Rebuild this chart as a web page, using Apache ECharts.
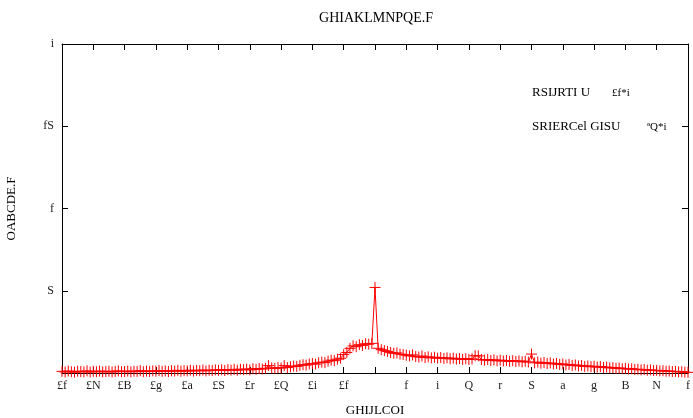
<!DOCTYPE html>
<html>
<head>
<meta charset="utf-8">
<script src="https://cdn.jsdelivr.net/npm/echarts@6/dist/echarts.min.js"></script>
<style>
  html, body { margin: 0; padding: 0; background: #fff; }
  #main { width: 693px; height: 418px; }
</style>
</head>
<body>
<div id="main"></div>
<script>
// sampling grid of the curve (x from -1 to 1)
const xStart = -1
const xStep = 0.01

// measured values, one per grid step
const yValues = [
  0.010, 0.006, 0.012, 0.008, 0.005, 0.011, 0.009, 0.007, 0.013, 0.006,
  0.010, 0.008, 0.012, 0.007, 0.009, 0.011, 0.006, 0.010, 0.013, 0.008,
  0.009, 0.012, 0.007, 0.011, 0.010, 0.014, 0.008, 0.012, 0.009, 0.013,
  0.011, 0.015, 0.010, 0.013, 0.009, 0.014, 0.012, 0.016, 0.011, 0.014,
  0.013, 0.017, 0.012, 0.016, 0.014, 0.018, 0.013, 0.017, 0.015, 0.019,
  0.016, 0.020, 0.015, 0.021, 0.018, 0.022, 0.017, 0.023, 0.020, 0.024,
  0.019, 0.026, 0.022, 0.027, 0.024, 0.029, 0.045, 0.031, 0.028, 0.033,
  0.030, 0.045, 0.033, 0.038, 0.042, 0.040, 0.047, 0.050, 0.048, 0.055,
  0.058, 0.054, 0.062, 0.066, 0.063, 0.072, 0.078, 0.075, 0.084, 0.090,
  0.112, 0.125, 0.150, 0.165, 0.160, 0.172, 0.168, 0.178, 0.175, 0.180,
  0.520,
  0.150, 0.142, 0.136, 0.131, 0.125, 0.120, 0.122, 0.115, 0.112, 0.108,
  0.104, 0.110, 0.100, 0.097, 0.103, 0.094, 0.098, 0.092, 0.096, 0.090,
  0.094, 0.088, 0.092, 0.086, 0.090, 0.085, 0.088, 0.083, 0.087, 0.082,
  0.086, 0.105, 0.104, 0.082, 0.078, 0.082, 0.076, 0.080, 0.074, 0.078,
  0.073, 0.076, 0.071, 0.075, 0.070, 0.073, 0.068, 0.072, 0.067, 0.115,
  0.062, 0.066, 0.060, 0.064, 0.058, 0.061, 0.055, 0.058, 0.052, 0.055,
  0.049, 0.052, 0.046, 0.049, 0.043, 0.046, 0.040, 0.043, 0.038, 0.041,
  0.036, 0.039, 0.033, 0.036, 0.031, 0.033, 0.028, 0.031, 0.026, 0.028,
  0.024, 0.026, 0.021, 0.023, 0.019, 0.021, 0.017, 0.019, 0.015, 0.016,
  0.013, 0.014, 0.011, 0.012, 0.009, 0.010, 0.007, 0.008, 0.005, 0.004
]

// tick labels as printed on the reference
const xTickLabels = ['£f', '£N', '£B', '£g', '£a', '£S', '£r', '£Q', '£i', '£f', '',
  'f', 'i', 'Q', 'r', 'S', 'a', 'g', 'B', 'N', 'f']
const yTickLabels = ['', 'S', 'f', 'fS', 'i']

const titleText = 'GHIAKLMNPQE.F'
const xName = 'GHIJLCOI'
const yName = 'OABCDE.F'
const noteKeys = ['RSIJRTI U', 'SRIERCel GISU']
const noteVals = ['£f*i', 'ªQ*i']

const font = 'Liberation Serif'
const red = '#ff0000'

let seriesData = yValues.map((v, i) => [+(xStart + i * xStep).toFixed(2), v])

let chart = echarts.init(document.getElementById('main'), null, { renderer: 'canvas' })

let axisCommon = {
  axisLine: { show: true, onZero: false, lineStyle: { color: '#000', width: 1 } },
  axisTick: { show: true, inside: true, length: 6, lineStyle: { color: '#000' } },
  splitLine: { show: false }
}

let option = {
  animation: false,
  backgroundColor: '#fff',
  title: {
    text: titleText,
    left: 371,
    top: 6,
    textAlign: 'center',
    textStyle: { fontFamily: font, fontSize: 14, fontWeight: 'normal', color: '#000' }
  },
  grid: { left: 62, right: 5, top: 44, bottom: 45, containLabel: false, outerBoundsMode: 'none' },
  xAxis: [
    Object.assign({}, axisCommon, {
      type: 'value', min: -1, max: 1, interval: 0.1, position: 'bottom',
      name: xName, nameLocation: 'middle', nameGap: 31,
      nameTextStyle: { fontFamily: font, fontSize: 13, color: '#000' },
      axisLabel: {
        margin: 7, fontFamily: font, fontSize: 12, color: '#222',
        formatter: (val, idx) => xTickLabels[idx] || ''
      }
    }),
    Object.assign({}, axisCommon, {
      type: 'value', min: -1, max: 1, interval: 0.1, position: 'top',
      axisLabel: { show: false }
    })
  ],
  yAxis: [
    Object.assign({}, axisCommon, {
      type: 'value', min: 0, max: 2, interval: 0.5, position: 'left',
      name: yName, nameLocation: 'middle', nameGap: 44, nameRotate: 90,
      nameTextStyle: { fontFamily: font, fontSize: 13, color: '#000' },
      axisLabel: {
        margin: 8, fontFamily: font, fontSize: 12, color: '#222',
        formatter: (val, idx) => yTickLabels[idx] || ''
      }
    }),
    Object.assign({}, axisCommon, {
      type: 'value', min: 0, max: 2, interval: 0.5, position: 'right',
      axisLabel: { show: false }
    })
  ],
  graphic: [
    { type: 'text', left: 532, top: 86, style: { text: noteKeys[0], font: '13px "' + font + '"', fill: '#000' } },
    { type: 'text', left: 612, top: 88, style: { text: noteVals[0], font: '11px "' + font + '"', fill: '#000' } },
    { type: 'text', left: 532, top: 120, style: { text: noteKeys[1], font: '13px "' + font + '"', fill: '#000' } },
    { type: 'text', left: 647, top: 122, style: { text: noteVals[1], font: '11px "' + font + '"', fill: '#000' } }
  ],
  series: [
    {
      type: 'line',
      xAxisIndex: 0,
      yAxisIndex: 0,
      data: seriesData,
      showAllSymbol: true,
      symbol: 'path://M5,0L5,10M0,5L10,5',
      symbolSize: 11,
      lineStyle: { color: red, width: 1 },
      itemStyle: { color: red, borderColor: red, borderWidth: 1 },
      emphasis: { disabled: true }
    }
  ]
}
chart.setOption(option)
</script>
</body>
</html>
